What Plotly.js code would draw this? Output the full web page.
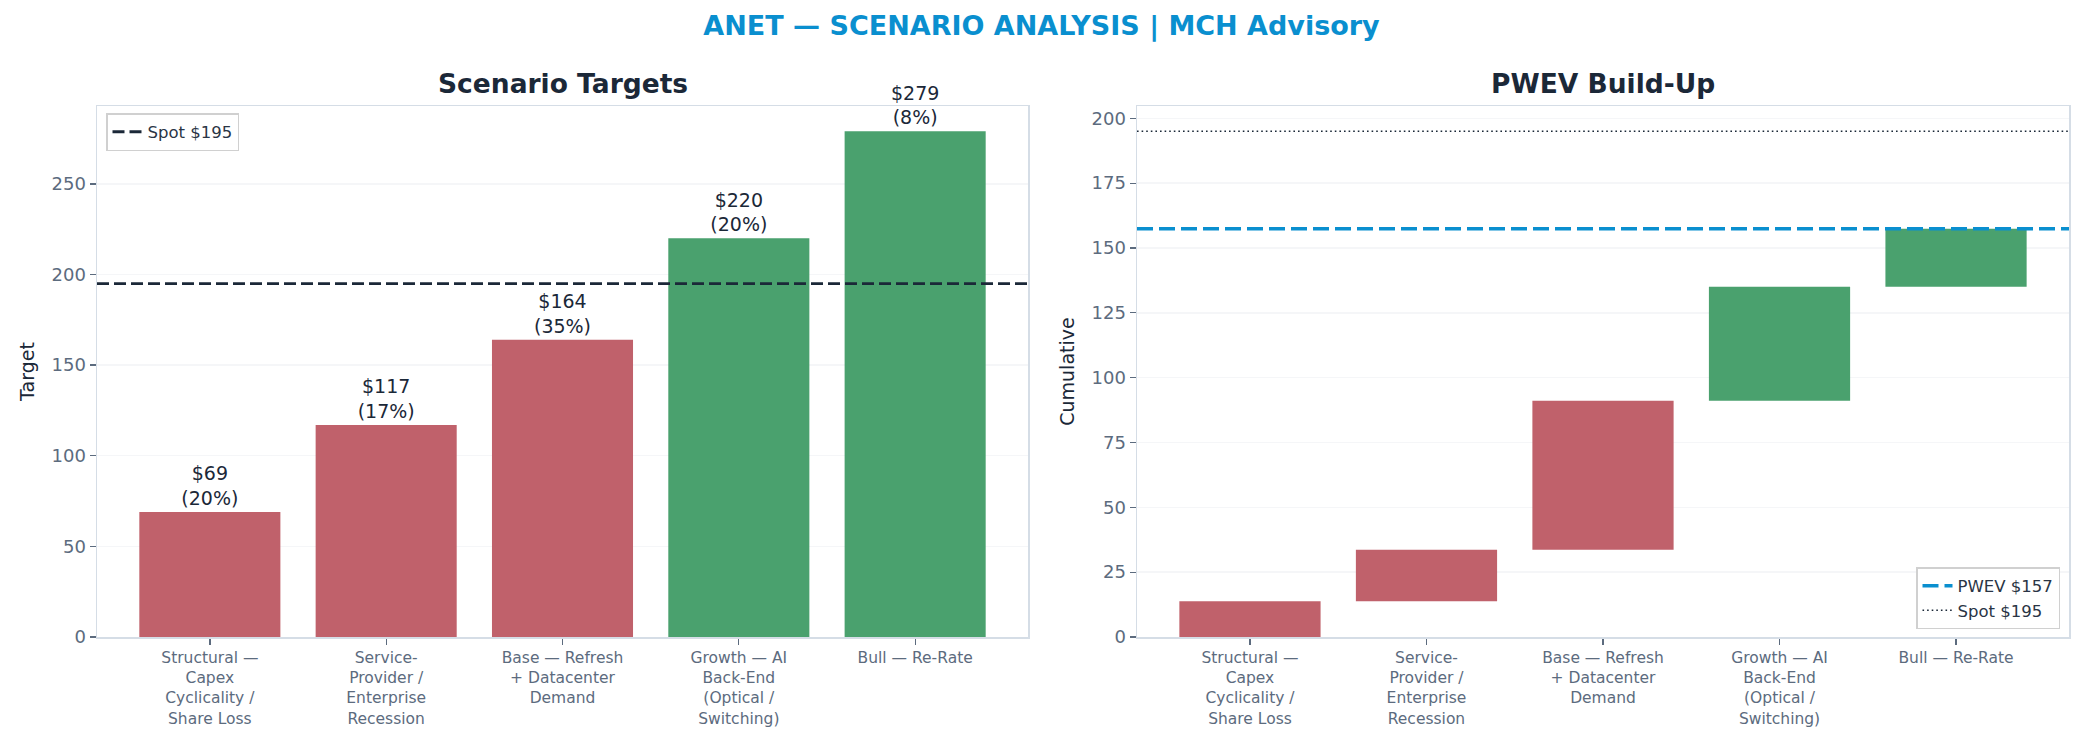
<!DOCTYPE html>
<html>
<head>
<meta charset="utf-8">
<script src="https://cdn.plot.ly/plotly-3.0.1.min.js"></script>
<style>html,body{margin:0;padding:0;background:#fff;}#chart{width:2083px;height:742px;}</style>
</head>
<body>
<div id="chart"></div>
<script>
// ---- data ----
const categories = [
  "Structural — Capex Cyclicality / Share Loss",
  "Service-Provider / Enterprise Recession",
  "Base — Refresh + Datacenter Demand",
  "Growth — AI Back-End (Optical / Switching)",
  "Bull — Re-Rate"
];
const tickLabels = [
  "Structural —<br>Capex<br>Cyclicality /<br>Share Loss",
  "Service-<br>Provider /<br>Enterprise<br>Recession",
  "Base — Refresh<br>+ Datacenter<br>Demand",
  "Growth — AI<br>Back-End<br>(Optical /<br>Switching)",
  "Bull — Re-Rate"
];
const targets = [69, 117, 164, 220, 279];
const probabilities = [20, 17, 35, 20, 8];   // percent
const spot = 195;

// ---- styling ----
const RED = "#c0616b", GREEN = "#4aa16e", NAVY = "#1b2838", BLUE = "#0a8fcf";
const TICKC = "#5c6b7e", FRAME = "#d5dde6", GRID = "rgba(228,231,236,0.38)";
const FONT = "DejaVu Sans";

const colors = targets.map(t => t < spot ? RED : GREEN);
const labels = targets.map((t, i) => "$" + t + "<br>(" + probabilities[i] + "%)");

// waterfall pieces from targets x probabilities
const contrib = targets.map((t, i) => t * probabilities[i] / 100);
const bases = [];
let acc = 0;
contrib.forEach(c => { bases.push(acc); acc += c; });
const pwev = acc;

const traces = [
  {
    type: "bar", x: categories, y: targets, xaxis: "x", yaxis: "y",
    marker: {color: colors, line: {width: 0}},
    text: labels, textposition: "outside", cliponaxis: false,
    textfont: {family: FONT, size: 19, color: NAVY},
    showlegend: false, hoverinfo: "skip"
  },
  {
    type: "bar", x: categories, y: contrib, base: bases, xaxis: "x2", yaxis: "y2",
    marker: {color: colors, line: {width: 0}},
    showlegend: false, hoverinfo: "skip"
  }
];

const axisCommon = {
  showline: true, mirror: true, linecolor: FRAME, linewidth: 1.5,
  ticks: "outside", ticklen: 6, tickwidth: 1.3, tickcolor: TICKC,
  zeroline: false, layer: "above traces", fixedrange: true
};
const xCommon = Object.assign({}, axisCommon, {
  type: "category", range: [-0.64, 4.64], showgrid: false,
  tickvals: categories, ticktext: tickLabels,
  tickfont: {family: FONT, size: 15.5, color: TICKC}
});
const yCommon = Object.assign({}, axisCommon, {
  showgrid: true, gridcolor: GRID, gridwidth: 1.5,
  tickfont: {family: FONT, size: 18, color: TICKC}
});

const layout = {
  width: 2083, height: 742,
  margin: {l: 0, r: 0, t: 0, b: 0},
  paper_bgcolor: "#ffffff", plot_bgcolor: "#ffffff",
  font: {family: FONT, color: NAVY},
  bargap: 0.2,
  title: {
    text: "<b>ANET — SCENARIO ANALYSIS | MCH Advisory</b>",
    font: {family: FONT, size: 27, color: BLUE},
    x: 0.5, xanchor: "center", y: 1 - 26/742, yanchor: "middle", yref: "container"
  },
  xaxis: Object.assign({}, xCommon, {domain: [97/2083, 1028/2083], anchor: "y"}),
  yaxis: Object.assign({}, yCommon, {
    domain: [1 - 637/742, 1 - 106/742], anchor: "x",
    range: [0, 279 * 1.05], dtick: 50,
    title: {text: "Target", font: {family: FONT, size: 19, color: NAVY}, standoff: 12}
  }),
  xaxis2: Object.assign({}, xCommon, {domain: [1137/2083, 2069/2083], anchor: "y2"}),
  yaxis2: Object.assign({}, yCommon, {
    domain: [1 - 637/742, 1 - 106/742], anchor: "x2",
    range: [0, spot * 1.05], dtick: 25,
    title: {text: "Cumulative", font: {family: FONT, size: 19, color: NAVY}, standoff: 12}
  }),
  annotations: [
    {text: "<b>Scenario Targets</b>", xref: "paper", yref: "paper",
     x: (97 + 1028) / 2 / 2083, y: 1 - 84/742, xanchor: "center", yanchor: "middle",
     showarrow: false, font: {family: FONT, size: 26.5, color: NAVY}},
    {text: "<b>PWEV Build-Up</b>", xref: "paper", yref: "paper",
     x: (1137 + 2069) / 2 / 2083, y: 1 - 84/742, xanchor: "center", yanchor: "middle",
     showarrow: false, font: {family: FONT, size: 26.5, color: NAVY}}
  ],
  shapes: [
    {type: "line", xref: "x domain", yref: "y", x0: 0, x1: 1, y0: spot, y1: spot,
     line: {color: NAVY, width: 2.8, dash: "12px,5px"},
     showlegend: true, name: "Spot $" + spot, legend: "legend"},
    {type: "line", xref: "x2 domain", yref: "y2", x0: 0, x1: 1, y0: pwev, y1: pwev,
     line: {color: BLUE, width: 3.6, dash: "16px,6px"},
     showlegend: true, name: "PWEV $" + Math.floor(pwev), legend: "legend2", legendrank: 1},
    {type: "line", xref: "x2 domain", yref: "y2", x0: 0, x1: 1, y0: spot, y1: spot,
     line: {color: NAVY, width: 1.6, dash: "1.6px,3px"},
     showlegend: true, name: "Spot $" + spot, legend: "legend2", legendrank: 2}
  ],
  legend: {
    x: 106/2083, y: 1 - 113/742, xanchor: "left", yanchor: "top",
    bgcolor: "#ffffff", bordercolor: "#d0d0d0", borderwidth: 1.5,
    font: {family: FONT, size: 16.5, color: "#2a3545"}, itemwidth: 30
  },
  legend2: {
    x: 2060/2083, y: 1 - 629/742, xanchor: "right", yanchor: "bottom",
    bgcolor: "#ffffff", bordercolor: "#d0d0d0", borderwidth: 1.5,
    font: {family: FONT, size: 16.5, color: "#2a3545"}, itemwidth: 30,
    traceorder: "normal"
  }
};

Plotly.newPlot("chart", traces, layout, {displayModeBar: false, staticPlot: true});
</script>
</body>
</html>
